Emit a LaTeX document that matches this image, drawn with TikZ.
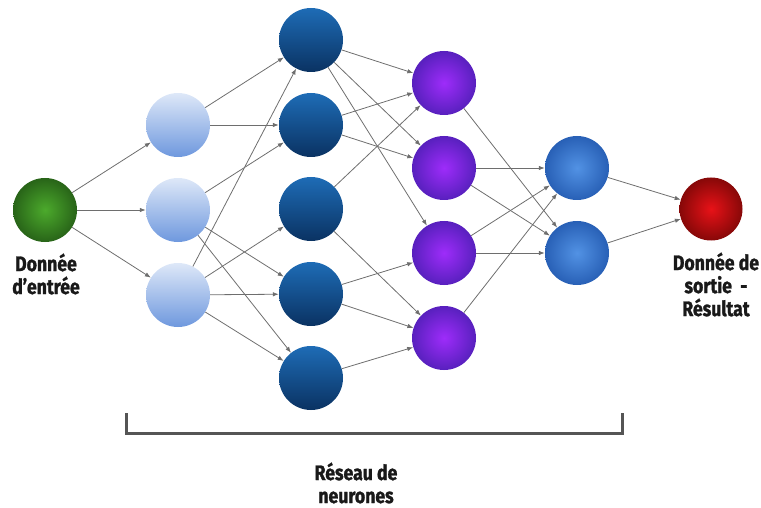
\documentclass[tikz,border=0pt]{standalone}
\usepackage{fontspec}
\setmainfont{Fira Sans}[FakeStretch=0.84,BoldFeatures={FakeBold=1.3}]
\usetikzlibrary{arrows.meta}
\definecolor{edgegray}{HTML}{6E6E6E}
\definecolor{bracketgray}{HTML}{555555}
\begin{document}
\begin{tikzpicture}[x=1pt,y=-1pt,
  neuron/.style={circle,minimum size=64pt,inner sep=0pt},
  inputn/.style={neuron,inner color={rgb,255:red,76;green,170;blue,44},outer color={rgb,255:red,40;green,100;blue,24}},
  lightn/.style={neuron,top color={rgb,255:red,222;green,232;blue,248},bottom color={rgb,255:red,110;green,152;blue,222}},
  darkn/.style={neuron,top color={rgb,255:red,30;green,108;blue,182},bottom color={rgb,255:red,10;green,50;blue,98}},
  purplen/.style={neuron,inner color={rgb,255:red,158;green,44;blue,250},outer color={rgb,255:red,88;green,32;blue,190}},
  bluen/.style={neuron,inner color={rgb,255:red,82;green,146;blue,228},outer color={rgb,255:red,40;green,96;blue,182}},
  outputn/.style={neuron,minimum size=63pt,inner color={rgb,255:red,232;green,18;blue,24},outer color={rgb,255:red,135;green,8;blue,8}},
  conn/.style={draw=edgegray,line width=0.8pt,-{Latex[length=6pt,width=4.5pt]}},
  lbl/.style={font=\fontsize{21}{23}\selectfont\bfseries,align=center,text=black!90}
]
\useasboundingbox (0,0) rectangle (761,508);
% nodes
\node[inputn] (in) at (45,210) {};
\node[lightn] (a1) at (178,125) {};
\node[lightn] (a2) at (178,210) {};
\node[lightn] (a3) at (178,295) {};
\node[darkn] (b1) at (311,40) {};
\node[darkn] (b2) at (311,125) {};
\node[darkn] (b3) at (311,209) {};
\node[darkn] (b4) at (311,294) {};
\node[darkn] (b5) at (311,378) {};
\node[purplen] (c1) at (444,83) {};
\node[purplen] (c2) at (444,168) {};
\node[purplen] (c3) at (444,253) {};
\node[purplen] (c4) at (444,338) {};
\node[bluen] (d1) at (577,168) {};
\node[bluen] (d2) at (577,253) {};
\node[outputn] (out) at (711,209) {};
% connections
\foreach \t in {a1,a2,a3} \draw[conn] (in) -- (\t);
\foreach \t in {b1,b2} \draw[conn] (a1) -- (\t);
\foreach \t in {b2,b4,b5} \draw[conn] (a2) -- (\t);
\foreach \t in {b1,b3,b4,b5} \draw[conn] (a3) -- (\t);
\foreach \t in {c1,c2,c3} \draw[conn] (b1) -- (\t);
\foreach \t in {c1,c2} \draw[conn] (b2) -- (\t);
\foreach \t in {c1,c4} \draw[conn] (b3) -- (\t);
\foreach \t in {c3,c4} \draw[conn] (b4) -- (\t);
\draw[conn] (b5) -- (c4);
\draw[conn] (c1) -- (d2);
\foreach \t in {d1,d2} \draw[conn] (c2) -- (\t);
\foreach \t in {d1,d2} \draw[conn] (c3) -- (\t);
\draw[conn] (c4) -- (d1);
\foreach \s in {d1,d2} \draw[conn] (\s) -- (out);
% labels
\node[lbl,anchor=north] (inlbl) at (46,250) {Donnée\\d’entrée};
\node[lbl,anchor=north] (outlbl) at (716,249) {Donnée de\\sortie\ \ -\\Résultat};
% bracket
\coordinate (bl) at (126,413);
\coordinate (blb) at (126,433);
\coordinate (brb) at (622,433);
\coordinate (br) at (622,413);
\draw[bracketgray,line width=3pt,line cap=butt,line join=miter] (bl) -- (blb) -- (brb) -- (br);
\node[lbl,anchor=north] (netlbl) at (356,459) {Réseau de\\neurones};
\end{tikzpicture}
\end{document}
